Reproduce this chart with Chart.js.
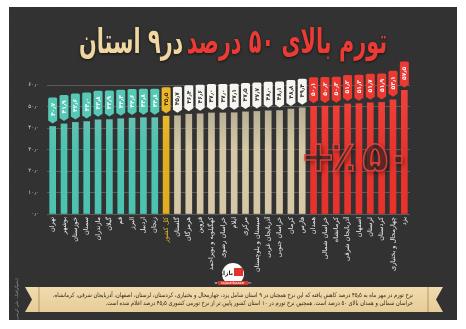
<!DOCTYPE html>
<html><head><meta charset="utf-8">
<script src="https://cdn.jsdelivr.net/npm/chart.js@4"></script>
<style>html,body{margin:0;padding:0;background:#fff;overflow:hidden}canvas{display:block}</style>
</head><body>
<canvas id="c" width="466" height="329"></canvas>
<script>
// ---- data ----
const provinces = ['تهران','بوشهر','خوزستان','سمنان','مازندران','گیلان','قم','البرز','اردبیل','زنجان',
  'کل کشور',
  'گلستان','هرمزگان','قزوین','کهگیلویه و بویراحمد','خراسان رضوی','ایلام','مرکزی','سیستان و بلوچستان','آذربایجان غربی','خراسان جنوبی','کرمان','فارس',
  'همدان','خراسان شمالی','کرمانشاه','آذربایجان شرقی','اصفهان','لرستان','کردستان','چهارمحال و بختیاری','یزد'];
const inflation = [40.7,41.9,42.6,43.0,43.8,43.9,44.3,44.6,44.8,44.8,
  45.5,
  45.7,46.4,46.6,47.0,47.0,47.1,47.5,47.7,48.0,48.1,48.8,49.4,
  50.1,50.2,50.3,51.2,51.3,51.7,51.9,53.1,57.5];
const nationalLabel = 'کل کشور';
const yTickValues = [0,10,20,30,40,50,60];
const titleRed = 'تورم بالای ۵۰ درصد';
const titleCream = 'در۹ استان';
const captionLines = [
  'نرخ تورم در مهر ماه به ۴۵٫۵ درصد کاهش یافته که این نرخ همچنان در ۹ استان شامل یزد، چهارمحال و بختیاری، کردستان، لرستان، اصفهان، آذربایجان شرقی، کرمانشاه،',
  'خراسان شمالی و همدان بالای ۵۰ درصد است. همچنین نرخ تورم در ۱۰ استان کشور پایین تر از نرخ تورمی کشوری ۴۵٫۵ درصد اعلام شده است.'
];
const watermark = ['+', '٪', '۵', '۰'];
const credit = 'اینفوگرافیک: علی کریمی';

// ---- helpers ----
const FA = '۰۱۲۳۴۵۶۷۸۹';
const toFa = s => String(s).replace(/[0-9]/g, d => FA[d]).replace('.', '٫');
const natIdx = provinces.indexOf(nationalLabel);
function tier(i){
  if (i === natIdx) return 'gold';
  const v = inflation[i];
  if (v >= 50) return 'red';
  if (v < inflation[natIdx]) return 'teal';
  return 'white';
}
const PAL = {
  teal:  {top:'#7cc0b4', bot:'#4cc3b0', flag:'#55c9b6', text:'#ffffff'},
  gold:  {top:'#f0c23c', bot:'#e2ad1f', flag:'#ecb62a', text:'#4a3300'},
  white: {top:'#a39d88', bot:'#d6c8a6', flag:'#f7f5ef', text:'#333333'},
  red:   {top:'#f0443c', bot:'#e8332d', flag:'#ec3a33', text:'#ffffff'}
};
const FONT = '"DejaVu Sans", "Noto Sans", sans-serif';

const framePlugin = {
  id:'frame',
  beforeDraw(chart){
    const ctx = chart.ctx;
    ctx.save();
    ctx.fillStyle = '#ffffff'; ctx.fillRect(0,0,chart.width,chart.height);
    ctx.fillStyle = '#303030'; ctx.fillRect(9,7,448,313);
    ctx.save(); ctx.beginPath(); ctx.rect(9,7,448,313); ctx.clip();
    ctx.strokeStyle = 'rgba(255,255,255,0.03)'; ctx.lineWidth = 1;
    ctx.beginPath();
    for (let k=-320; k<460; k+=3){ ctx.moveTo(9+k,7); ctx.lineTo(9+k+313,320); }
    ctx.stroke(); ctx.restore();
    // title
    ctx.direction = 'rtl';
    ctx.textBaseline = 'middle';
    const size = 24;
    ctx.font = `bold ${size}px ${FONT}`;
    const gap = 4;
    const wr = ctx.measureText(titleRed).width, wc = ctx.measureText(titleCream).width;
    const total = wr + wc + gap;
    const sx = 308 / total;
    ctx.translate(233, 44);
    ctx.scale(sx, 1.45);
    const left = -total/2;
    ctx.shadowColor = 'rgba(0,0,0,0.6)'; ctx.shadowBlur = 3; ctx.shadowOffsetY = 1;
    ctx.textAlign = 'left';
    ctx.fillStyle = '#f0d7a2'; ctx.fillText(titleCream, left, 0);
    ctx.textAlign = 'right';
    ctx.fillStyle = '#ec3b34'; ctx.fillText(titleRed, total/2, 0);
    ctx.restore();
  }
};

const flagPlugin = {
  id:'flags',
  afterDatasetsDraw(chart){
    const ctx = chart.ctx;
    const meta = chart.getDatasetMeta(0);
    ctx.save();
    // watermark (drawn over bars, under flags)
    ctx.save();
    ctx.direction = 'ltr';
    ctx.textAlign = 'center'; ctx.textBaseline = 'middle';
    ctx.font = `bold 42px ${FONT}`;
    const xs = [318, 343, 375, 398];
    watermark.forEach((ch, k) => {
      ctx.shadowColor = 'rgba(0,0,0,0.8)'; ctx.shadowBlur = 5; ctx.shadowOffsetX = 2; ctx.shadowOffsetY = 2;
      ctx.fillStyle = 'rgba(55,45,45,0.6)';
      ctx.fillText(ch, xs[k], 160);
      ctx.shadowColor = 'transparent';
      ctx.strokeStyle = 'rgba(235,65,58,0.9)'; ctx.lineWidth = 1.6;
      ctx.strokeText(ch, xs[k], 160);
    });
    ctx.restore();
    meta.data.forEach((el,i) => {
      const p = PAL[tier(i)];
      const x = el.x, bot = el.y - 4, top = bot - 25, hw = 4.5;
      ctx.beginPath();
      ctx.moveTo(x-hw, top+1.5); ctx.quadraticCurveTo(x-hw, top, x-hw+1.5, top);
      ctx.lineTo(x+hw-1.5, top); ctx.quadraticCurveTo(x+hw, top, x+hw, top+1.5);
      ctx.lineTo(x+hw, bot-2); ctx.lineTo(x, bot+1); ctx.lineTo(x-hw, bot-2); ctx.closePath();
      ctx.fillStyle = p.flag; ctx.fill();
      ctx.save();
      ctx.translate(x+0.3, (top+bot)/2 - 0.5);
      ctx.rotate(-Math.PI/2);
      ctx.fillStyle = p.text;
      ctx.font = `bold 6px ${FONT}`;
      ctx.textAlign = 'center'; ctx.textBaseline = 'middle';
      ctx.direction = 'ltr';
      ctx.fillText(toFa(inflation[i].toFixed(1)), 0, 0);
      ctx.restore();
    });
    ctx.restore();
  }
};

const footerPlugin = {
  id:'footer',
  afterDraw(chart){
    const ctx = chart.ctx;
    ctx.save();
    // logo
    ctx.fillStyle = '#ffffff';
    ctx.beginPath(); ctx.arc(233, 274, 11, 0, Math.PI*2); ctx.fill();
    ctx.fillStyle = '#e2322c';
    ctx.fillRect(234, 268, 9, 8);
    ctx.fillStyle = '#222'; ctx.font = `bold 6px ${FONT}`; ctx.direction='rtl';
    ctx.textAlign = 'right'; ctx.textBaseline = 'middle';
    ctx.fillText('بازار', 233, 273);
    ctx.direction='ltr'; ctx.textAlign='center';
    ctx.font = `3.5px ${FONT}`; ctx.fillStyle = '#ddd';
    ctx.fillText('www.                 .com', 233, 283);
    ctx.fillStyle = '#e2322c'; ctx.fillRect(218, 281, 30, 4);
    ctx.fillStyle = '#fff'; ctx.fillText('tejaratbazaar', 233, 283);
    // ribbon
    const g = ctx.createLinearGradient(0,287,0,312);
    g.addColorStop(0,'#f1dcae'); g.addColorStop(1,'#e6cc98');
    ctx.fillStyle = g;
    ctx.beginPath();
    ctx.moveTo(25,287); ctx.lineTo(443,287); ctx.lineTo(436,299.5); ctx.lineTo(443,312);
    ctx.lineTo(25,312); ctx.lineTo(32,299.5); ctx.closePath(); ctx.fill();
    ctx.fillStyle = 'rgba(120,90,40,0.25)';
    ctx.fillRect(38,287,2,25); ctx.fillRect(427,287,2,25);
    // caption
    ctx.fillStyle = '#2a1f12';
    ctx.direction = 'rtl'; ctx.textAlign = 'right'; ctx.textBaseline = 'middle';
    ctx.font = `6.2px ${FONT}`;
    const w0 = ctx.measureText(captionLines[0]).width;
    const sc = Math.min(1, 360 / w0);
    captionLines.forEach((ln, k) => {
      ctx.save(); ctx.translate(413, 295 + k*8.5); ctx.scale(sc,1);
      ctx.fillText(ln, 0, 0); ctx.restore();
    });
    // credit
    ctx.save(); ctx.translate(17, 299); ctx.rotate(-Math.PI/2);
    ctx.fillStyle = '#9a9a9a'; ctx.font = `4px ${FONT}`; ctx.textAlign='center';
    ctx.fillText(credit, 0, 0); ctx.restore();
    ctx.restore();
  }
};

new Chart(document.getElementById('c'), {
  type:'bar',
  data:{
    labels: provinces,
    datasets:[{
      data: inflation,
      barThickness: 6,
      borderWidth: 0,
      backgroundColor: (c) => {
        const p = PAL[tier(c.dataIndex)];
        const a = c.chart.chartArea;
        if (!a) return p.bot;
        const gr = c.chart.ctx.createLinearGradient(0, a.top, 0, a.bottom);
        gr.addColorStop(0, p.top); gr.addColorStop(0.5, p.bot); gr.addColorStop(1, p.bot);
        return gr;
      }
    }]
  },
  options:{
    responsive:false, animation:false,
    layout:{padding:{top:85, right:56, left:9, bottom:0}},
    plugins:{legend:{display:false}, tooltip:{enabled:false}},
    scales:{
      x:{
        grid:{display:false, drawTicks:false},
        border:{display:false},
        ticks:{
          autoSkip:false, minRotation:90, maxRotation:90, padding:3,
          color:(c)=> c.index === natIdx ? '#ecb62a' : '#eeeeee',
          font:{family:FONT, size:6.5}
        },
        afterFit(s){ s.height = 115; }
      },
      y:{
        min:0, max:60,
        afterBuildTicks(s){ s.ticks = yTickValues.map(v=>({value:v})); },
        grid:{color:'rgba(255,255,255,0.2)', drawTicks:false},
        border:{display:false},
        ticks:{
          color:'#d8d8d8', padding:8,
          font:{family:FONT, size:5.5},
          callback:(v)=> toFa(Number(v).toFixed(1))
        },
        afterFit(s){ s.width = 38; }
      }
    }
  },
  plugins:[framePlugin, flagPlugin, footerPlugin]
});
</script>
</body></html>
